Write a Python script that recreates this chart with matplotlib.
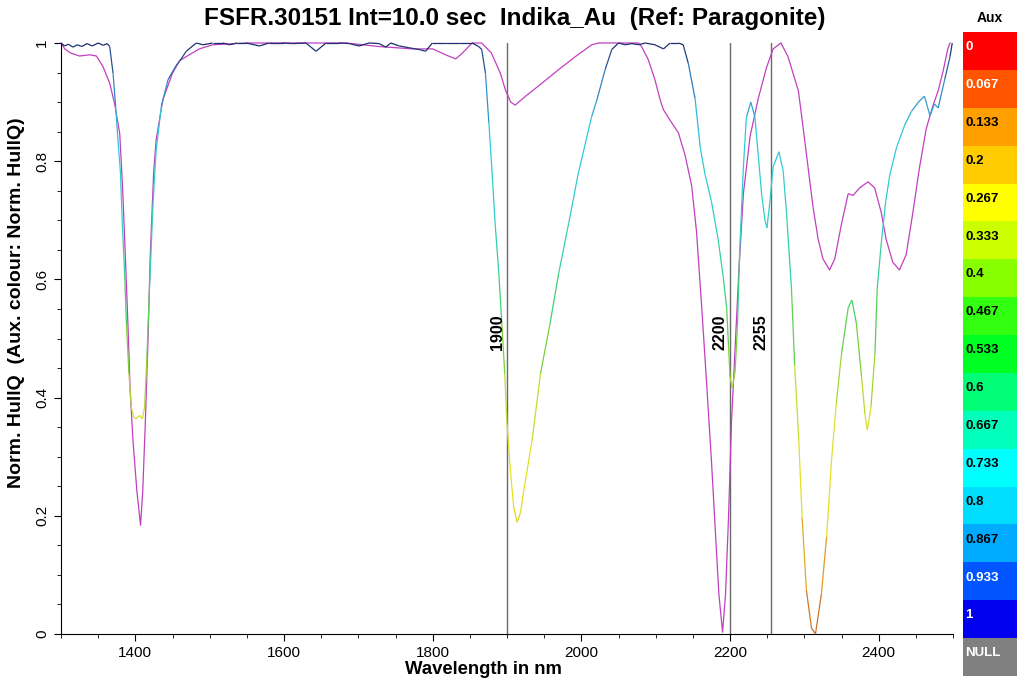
import matplotlib
matplotlib.use("Agg")
import matplotlib.pyplot as plt
import numpy as np
from matplotlib.collections import LineCollection
from matplotlib.colors import LinearSegmentedColormap
from matplotlib.ticker import MultipleLocator

plt.rcParams['font.family'] = ['Liberation Sans', 'DejaVu Sans']

# sample spectrum (hull quotient)
wl = [1300, 1305, 1310, 1316, 1322, 1328, 1335, 1342, 1350, 1357, 1362, 1365.5,
      1370, 1373.5, 1376.6, 1380, 1382.5, 1385.6, 1388, 1391.4, 1394.6, 1397.7,
      1401, 1405.8, 1409.4, 1412.5, 1415.6, 1419, 1423.6, 1428, 1435, 1444, 1455,
      1460, 1468.5, 1482, 1491, 1504, 1517.6, 1526.6, 1537, 1549, 1567, 1580,
      1598, 1611.6, 1629.5, 1643, 1656.6, 1674, 1688, 1701, 1714.5, 1728, 1737,
      1743.6, 1755, 1768, 1781.6, 1790.6, 1799.5, 1817.5, 1835, 1853, 1862, 1866,
      1871, 1875.6, 1880, 1884, 1889, 1893, 1897, 1900, 1905, 1909, 1913.6, 1918,
      1922.6, 1933.8, 1945, 1958, 1969.5, 1983, 1996, 2014, 2021, 2032, 2041,
      2050, 2059, 2068, 2077, 2086, 2099, 2110.5, 2119.5, 2130.6, 2137, 2144,
      2153, 2160, 2166.5, 2175, 2184, 2191, 2195.5, 2198, 2200, 2203, 2206.7,
      2210, 2213, 2218, 2222, 2228, 2233.6, 2238, 2242.5, 2247, 2249.7, 2253.7,
      2258, 2265.8, 2271.5, 2276, 2282.7, 2287, 2292.6, 2297, 2302.8, 2309.6,
      2315, 2323, 2330, 2336.6, 2343, 2350, 2359, 2364, 2370, 2377, 2381.6,
      2384.7, 2389.6, 2395, 2398, 2404, 2409.5, 2415, 2424, 2435, 2444, 2453.5,
      2461.6, 2469, 2475, 2480, 2489, 2496, 2499]
hullq = [1.0, 0.995, 0.998, 0.993, 0.997, 0.994, 0.999, 0.995, 1.0, 0.996, 0.999, 0.994,
         0.949, 0.893, 0.836, 0.78, 0.695, 0.61, 0.526, 0.44, 0.384, 0.367,
         0.364, 0.37, 0.364, 0.384, 0.469, 0.582, 0.723, 0.819, 0.893, 0.938, 0.962,
         0.97, 0.986, 1.0, 0.997, 1.0, 1.0, 0.997, 1.0, 1.0, 0.995, 1.0,
         1.0, 0.999, 1.0, 0.986, 1.0, 1.0, 0.999, 0.995, 1.0, 0.999, 0.993,
         1.0, 0.995, 0.992, 0.989, 0.986, 1.0, 1.0, 1.0, 1.0, 0.994, 0.989,
         0.949, 0.865, 0.78, 0.695, 0.61, 0.526, 0.44, 0.356, 0.27, 0.215, 0.189, 0.205,
         0.243, 0.328, 0.44, 0.526, 0.61, 0.695, 0.78, 0.876, 0.904, 0.955, 0.989,
         1.0, 0.997, 0.999, 0.997, 1.0, 0.997, 0.99, 1.0, 1.0, 0.997, 0.965,
         0.906, 0.823, 0.777, 0.732, 0.668, 0.603, 0.552, 0.487, 0.435, 0.416, 0.442,
         0.519, 0.648, 0.79, 0.874, 0.90, 0.874, 0.81, 0.745, 0.70, 0.687, 0.732,
         0.79, 0.816, 0.784, 0.713, 0.584, 0.455, 0.326, 0.197, 0.074, 0.01,
         0.0, 0.068, 0.165, 0.294, 0.39, 0.474, 0.552, 0.565, 0.526, 0.435, 0.371,
         0.345, 0.384, 0.474, 0.584, 0.668, 0.732, 0.777, 0.823, 0.861, 0.884, 0.90,
         0.91, 0.877, 0.897, 0.89, 0.939, 0.977, 1.0]

# reference spectrum (Paragonite)
ref_wl = [1300, 1305, 1313, 1325, 1339, 1347.6, 1356.5, 1365.5, 1372, 1379, 1383,
          1386.6, 1390, 1393, 1396.8, 1402, 1407, 1410, 1413.4, 1417, 1420, 1424.6,
          1428, 1437, 1450, 1459.5, 1468.5, 1486, 1504, 1549, 1638, 1684, 1728,
          1773, 1800, 1817.5, 1831, 1840, 1853, 1866, 1879, 1891, 1898, 1905, 1911,
          1925, 1947, 1969.5, 1992, 2014, 2023, 2077, 2081, 2090, 2099, 2106,
          2110.5, 2120, 2130.6, 2139.6, 2148.5, 2155, 2162, 2168.6, 2175, 2180.7,
          2185, 2190, 2194, 2198, 2202, 2207, 2212, 2218, 2227, 2238, 2249, 2258,
          2268.5, 2278, 2292, 2298.6, 2305, 2312, 2318.6, 2325, 2334, 2341, 2350,
          2359, 2365.5, 2374.5, 2385.6, 2394.6, 2403.5, 2410, 2419, 2428, 2437,
          2446, 2455, 2464, 2473, 2480, 2486.6, 2493, 2496]
ref_hullq = [1.0, 0.99, 0.983, 0.978, 0.98, 0.978, 0.96, 0.932, 0.898, 0.847, 0.751,
             0.638, 0.526, 0.413, 0.328, 0.243, 0.184, 0.243, 0.356, 0.497, 0.638, 0.78,
             0.836, 0.904, 0.949, 0.97, 0.977, 0.99, 0.997, 1.0, 1.0, 1.0, 0.994,
             0.99, 0.99, 0.98, 0.973, 0.983, 1.0, 1.0, 0.983, 0.949, 0.92, 0.90, 0.895,
             0.91, 0.932, 0.955, 0.977, 0.997, 1.0, 1.0, 0.994, 0.972, 0.938, 0.904,
             0.887, 0.868, 0.848, 0.81, 0.758, 0.68, 0.552, 0.423, 0.294, 0.165,
             0.068, 0.003, 0.068, 0.197, 0.358, 0.487, 0.616, 0.745, 0.842, 0.906, 0.958, 0.99,
             1.0, 0.977, 0.919, 0.855, 0.79, 0.72, 0.668, 0.635, 0.616, 0.635, 0.694,
             0.745, 0.742, 0.755, 0.765, 0.755, 0.713, 0.668, 0.629, 0.616, 0.642,
             0.713, 0.79, 0.855, 0.894, 0.919, 0.952, 0.99, 1.0]

markers = [1900, 2200, 2255]

aux_labels = ['0', '0.067', '0.133', '0.2', '0.267', '0.333', '0.4', '0.467', '0.533',
              '0.6', '0.667', '0.733', '0.8', '0.867', '0.933', '1', 'NULL']
aux_colors = ['#ff0000', '#ff5500', '#ff9f00', '#ffcc00', '#ffff00', '#ccff00', '#88ff00',
              '#33ff11', '#00ff22', '#00ff77', '#00ffbb', '#00ffff', '#00ddff', '#00aaff',
              '#0055ff', '#0000ee', '#808080']
aux_white_text = ['0', '0.067', '0.933', '1', 'NULL']

line_cmap = LinearSegmentedColormap.from_list('auxline', [
    (0.0, '#c8642a'), (0.12, '#e0a020'), (0.22, '#e6e020'), (0.36, '#dde030'),
    (0.47, '#80d030'), (0.56, '#40d070'), (0.68, '#30d0c0'), (0.85, '#30c8e0'),
    (0.95, '#3070b0'), (1.0, '#1c2c6c')])

fig = plt.figure(figsize=(10.17, 6.84), dpi=100)
ax = fig.add_axes([61 / 1017, 1 - 634 / 684, 892 / 1017, 591 / 684])

x = np.array(wl)
y = np.array(hullq)
pts = np.column_stack([x, y]).reshape(-1, 1, 2)
segs = np.concatenate([pts[:-1], pts[1:]], axis=1)
lc = LineCollection(segs, colors=line_cmap((y[:-1] + y[1:]) / 2), linewidths=0.9, zorder=3)
lc.set_clip_on(False)
ax.add_collection(lc)

ax.plot(ref_wl, ref_hullq, color='#c040c0', lw=0.9, zorder=2, clip_on=False)

for m in markers:
    ax.axvline(m, color='#6a6a6a', lw=1.0, zorder=1)
    ax.text(m - 3, 0.51, str(m), rotation=90, ha='right', va='center',
            fontsize=11.5, fontweight='bold')

ax.set_xlim(1300, 2500)
ax.set_ylim(0, 1.0)
ax.xaxis.set_minor_locator(MultipleLocator(50))
ax.yaxis.set_minor_locator(MultipleLocator(0.05))
ax.set_yticks([0, 0.2, 0.4, 0.6, 0.8, 1.0])
ax.set_yticklabels(['0', '0.2', '0.4', '0.6', '0.8', '1'], rotation=90, va='center')
ax.set_xticks([1400, 1600, 1800, 2000, 2200, 2400])
ax.tick_params(which='major', length=5, labelsize=11, direction='out')
ax.tick_params(which='minor', length=3, direction='out')
for s in ['top', 'right']:
    ax.spines[s].set_visible(False)

ax.set_xlabel('Wavelength in nm', fontsize=13.3, fontweight='bold')
ax.xaxis.set_label_coords((483 - 61) / 892, -0.046)
ax.set_ylabel('Norm. HullQ  (Aux. colour: Norm. HullQ)', fontsize=14,
              fontweight='bold')
ax.yaxis.set_label_coords(-0.040, 0.56)
fig.text(515 / 1017, 1 - 18 / 684, 'FSFR.30151 Int=10.0 sec  Indika_Au  (Ref: Paragonite)',
         ha='center', va='center', fontsize=17.5, fontweight='bold')

# aux legend at the right
lax = fig.add_axes([963 / 1017, 1 - 676 / 684, 54 / 1017, 644 / 684])
n = len(aux_labels)
pos = np.arange(n)
lax.barh(pos, [1] * n, height=1.0, left=0, color=aux_colors, edgecolor='none')
lax.set_xlim(0, 1)
lax.set_ylim(n - 0.5, -0.5)
lax.axis('off')
for i, lab in enumerate(aux_labels):
    c = 'white' if lab in aux_white_text else 'black'
    lax.text(0.04, i - 0.1, lab, ha='left', va='center', fontsize=9.5,
             fontweight='bold', color=c)
fig.text(990 / 1017, 1 - 18 / 684, 'Aux', ha='center', va='center', fontsize=10,
         fontweight='bold')

fig.savefig('out.png', dpi=100)
